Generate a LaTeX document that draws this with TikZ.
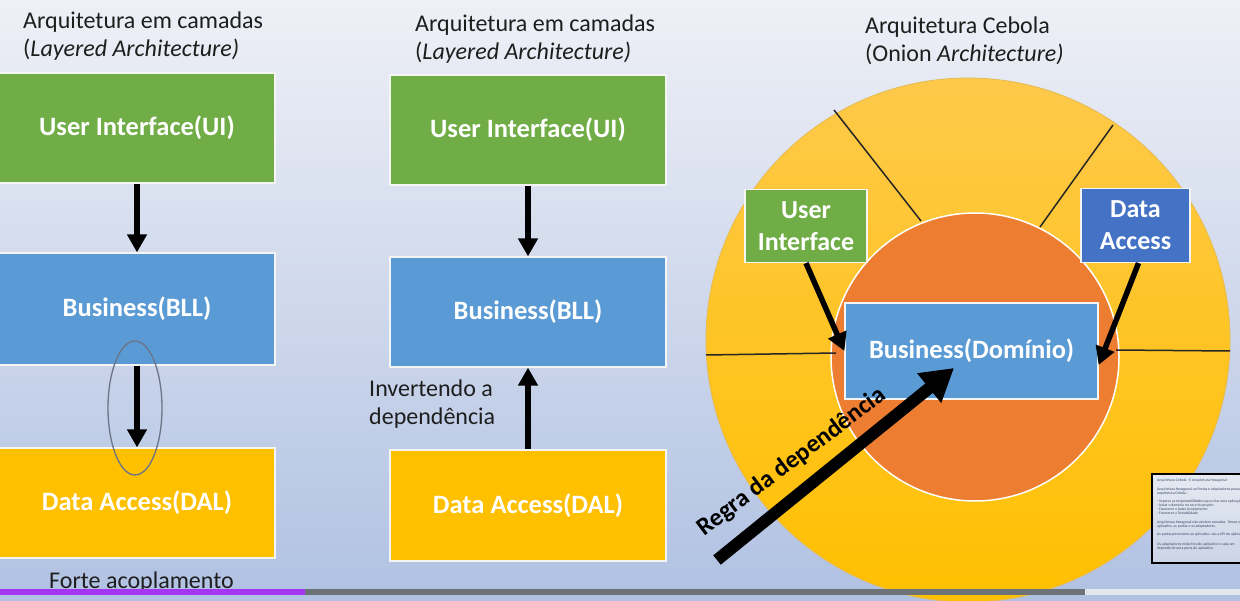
\documentclass[tikz,border=0pt]{standalone}
\usepackage{fontspec}
\setmainfont{Carlito}
\usetikzlibrary{arrows.meta,shapes.geometric}
\definecolor{bgtop}{HTML}{EEF0F6}
\definecolor{bgbot}{HTML}{B0C1E2}
\definecolor{cGreen}{HTML}{70AD47}
\definecolor{cBlue}{HTML}{5B9BD5}
\definecolor{cDarkBlue}{HTML}{4472C4}
\definecolor{cYellow}{HTML}{FFC000}
\definecolor{cOrange}{HTML}{ED7D31}
\definecolor{onTop}{HTML}{FEC94A}
\definecolor{onBot}{HTML}{FFC000}
\definecolor{ellgray}{HTML}{6B7386}
\definecolor{txt}{HTML}{1E1E1E}
\definecolor{barPurple}{HTML}{A435F0}
\definecolor{barGray}{HTML}{6D7278}
\definecolor{barLight}{HTML}{E2E6EE}
\definecolor{thTop}{HTML}{E6EAF2}
\definecolor{thBot}{HTML}{CBD4E6}
\definecolor{thTxt}{HTML}{3C4866}
\begin{document}
\begin{tikzpicture}[x=1pt,y=-1pt,
  box/.style={draw=white!92!gray, line width=1.2pt, inner sep=0pt, text=white,
    font=\bfseries\fontsize{26.5}{31}\selectfont, align=center},
  bigbox/.style={box, minimum width=276pt, minimum height=110pt},
  arr/.style={line width=5.5pt, draw=black, -{Triangle[length=18pt,width=19pt]}},
  bigarr/.style={line width=12pt, draw=black, -{Triangle[length=32pt,width=36pt]}},
  ttl/.style={anchor=base west, inner sep=0pt, text=txt, font=\fontsize{24}{29}\selectfont},
  radial/.style={line width=1.5pt, draw=black!85},
  thline/.style={anchor=base west, inner sep=0pt, text=thTxt, font=\fontsize{3.8}{4.5}\selectfont}]
\useasboundingbox (0,0) rectangle (1240,601);
\shade[top color=bgtop, bottom color=bgbot] (0,0) rectangle (1240,601);

% ---------- left column ----------
\node[ttl] (lT1) at (23,29) {Arquitetura em camadas};
\node[ttl] (lT2) at (23,57) {(\textit{Layered Architecture)}};
\node[bigbox, fill=cGreen] (lUI) at (137,128) {User Interface(UI)};
\node[bigbox, fill=cBlue, minimum height=112pt] (lBLL) at (137,309) {Business(BLL)};
\node[bigbox, fill=cYellow] (lDAL) at (137,503) {Data Access(DAL)};
\draw[arr] (lUI.south) -- (lBLL.north);
\draw[arr] (lBLL.south) -- (lDAL.north);
\node[ellipse, draw=ellgray, line width=1.3pt, minimum width=54pt, minimum height=134pt] (ell) at (135,408) {};
\node[ttl] (forte) at (49,588) {Forte acoplamento};

% ---------- middle column ----------
\node[ttl] (mT1) at (415,32) {Arquitetura em camadas};
\node[ttl] (mT2) at (415,60) {(\textit{Layered Architecture)}};
\node[bigbox, fill=cGreen] (mUI) at (528,130) {User Interface(UI)};
\node[bigbox, fill=cBlue] (mBLL) at (528,312) {Business(BLL)};
\node[bigbox, fill=cYellow, minimum height=111pt] (mDAL) at (528,505.5) {Data Access(DAL)};
\draw[arr] (mUI.south) -- (mBLL.north);
\draw[arr] (mDAL.north) -- (mBLL.south);
\node[ttl] (inv1) at (369,397) {Invertendo a};
\node[ttl] (inv2) at (369,425) {dependência};

% ---------- onion ----------
\node[ttl] (rT1) at (865,34) {Arquitetura Cebola};
\node[ttl] (rT2) at (865,62) {(Onion \textit{Architecture)}};
\node[circle, minimum size=524pt, inner sep=0pt, top color=onTop, bottom color=onBot, draw=onTop!80!gray, line width=0.8pt] (outer) at (968,340) {};
\node[circle, minimum size=288pt, inner sep=0pt, fill=cOrange, draw=white, line width=1.5pt] (inner) at (975,357) {};
\coordinate (r1a) at (834,110);  \coordinate (r1b) at (921,221);
\coordinate (r2a) at (1113,125); \coordinate (r2b) at (1040,227);
\coordinate (r3a) at (706,355);  \coordinate (r3b) at (836,353);
\coordinate (r4a) at (1116,350); \coordinate (r4b) at (1230,351);
\draw[radial] (r1a) -- (r1b);
\draw[radial] (r2a) -- (r2b);
\draw[radial] (r3a) -- (r3b);
\draw[radial] (r4a) -- (r4b);
\node[box, fill=cBlue, minimum width=253pt, minimum height=96pt] (bizD) at (971.5,351) {Business(Domínio)};
\node[box, fill=cGreen, minimum width=122pt, minimum height=73pt, font=\bfseries\fontsize{26}{32}\selectfont] (uiS) at (806,226) {User\\Interface};
\node[box, fill=cDarkBlue, minimum width=109pt, minimum height=74pt, font=\bfseries\fontsize{26}{32}\selectfont] (daS) at (1135.5,225.5) {Data\\Access};
\draw[arr] (uiS.south) -- (bizD.west);
\draw[arr] ([xshift=3pt]daS.south) -- ([yshift=-14pt]bizD.east);
\coordinate (regS) at (717,560);
\coordinate (regE) at (954,368);
\draw[bigarr] (regS) -- (regE);
\node[font=\bfseries\fontsize{25}{30}\selectfont, text=black, rotate=37, inner sep=0pt] (regra) at (792,462) {Regra da dependência};

% ---------- thumbnail ----------
\begin{scope}
\clip (1151,473) rectangle (1240,564);
\shade[top color=thTop, bottom color=thBot, draw=black, line width=2pt] (1152,474) rectangle (1250,563);
\node[thline] (th1) at (1157,482) {Arquitetura Cebola - E Arquitetura Hexagonal};
\node[thline] (th2) at (1157,490) {Arquitetura Hexagonal ou Portas e adaptadores possui};
\node[thline] (th3) at (1157,494) {arquitetura Cebola :};
\node[thline] (th4) at (1157,502.5) {- Separar as responsabilidades para criar uma aplicação};
\node[thline] (th5) at (1157,506.5) {- Isolar o domínio no core do projeto};
\node[thline] (th6) at (1157,510.5) {- Favorecer o baixo Acoplamento};
\node[thline] (th7) at (1157,514.5) {- Favorecer a Testabilidade};
\node[thline] (th8) at (1157,523) {Arquitetura hexagonal não existem camadas. Temos o};
\node[thline] (th9) at (1157,527) {aplicativo, as portas e os adaptadores.};
\node[thline] (th10) at (1157,535) {As portas pertencem ao aplicativo, são a API do aplicativo};
\node[thline] (th11) at (1157,545) {Os adaptadores estão fora do aplicativo e cada um};
\node[thline] (th12) at (1157,549) {depende de uma porta do aplicativo.};
\end{scope}

% ---------- progress bar ----------
\fill[barPurple] (0,589) rectangle (305,595);
\fill[barGray] (305,589) rectangle (1085,595);
\fill[barLight] (1085,589) rectangle (1240,595);
\end{tikzpicture}
\end{document}
